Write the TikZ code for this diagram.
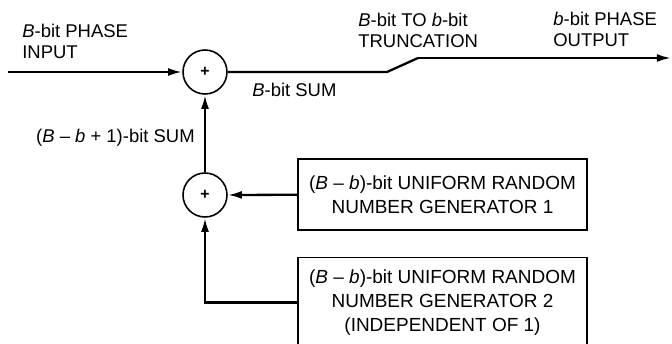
\documentclass[tikz,border=0pt]{standalone}
\usepackage{fontspec}
\setmainfont{Liberation Sans}
\usetikzlibrary{arrows.meta,positioning,calc}

\begin{document}
\begin{tikzpicture}[
    adder/.style={draw, circle, line width=0.9pt, minimum size=0.88cm, inner sep=0pt, font=\bfseries\small},
    gen/.style={draw, line width=0.9pt, minimum width=5.78cm, align=center, font=\fontsize{10.8}{13.8}\selectfont},
    arr/.style={-{Latex[length=8pt,width=4.5pt]}, line width=1.3pt},
    wire/.style={line width=1.3pt},
    lbl/.style={font=\fontsize{10.5}{12}\selectfont, align=left, inner sep=0pt}
]
\useasboundingbox (0,0) rectangle (13.44,6.86);

\node[adder] (S1) at (4.10,5.42) {+};
\node[adder] (S2) at (4.10,2.96) {+};
\node[gen, minimum height=1.42cm] (G1) at (8.85,2.97) {(\textit{B} -- \textit{b})-bit UNIFORM RANDOM\\NUMBER GENERATOR 1};
\node[gen, minimum height=1.80cm] (G2) at (8.85,0.81) {(\textit{B} -- \textit{b})-bit UNIFORM RANDOM\\NUMBER GENERATOR 2\\(INDEPENDENT OF 1)};

\coordinate (in) at (0.16,5.42);
\coordinate (k1) at (7.74,5.42);
\coordinate (k2) at (8.36,5.70);
\coordinate (out) at (13.42,5.70);

\node[lbl, anchor=west] (inlbl) at (0.44,6.03) {\textit{B}-bit PHASE\\INPUT};
\node[lbl, anchor=west] (sumlbl) at (5.04,5.06) {\textit{B}-bit SUM};
\node[lbl, anchor=west] (trlbl) at (7.16,6.26) {\textit{B}-bit TO \textit{b}-bit\\TRUNCATION};
\node[lbl, anchor=west] (outlbl) at (11.06,6.28) {\textit{b}-bit PHASE\\OUTPUT};
\node[lbl, anchor=east] (dsumlbl) at (3.90,4.10) {(\textit{B} -- \textit{b} + 1)-bit SUM};

\draw[arr] (in) -- (S1);
\draw[wire] (S1) -- (k1) -- (k2);
\draw[arr] (k2) -- (out);
\draw[arr] (S2) -- (S1);
\draw[arr] (G1) -- (S2);
\draw[arr] (G2.west) -| (S2);
\end{tikzpicture}
\end{document}
